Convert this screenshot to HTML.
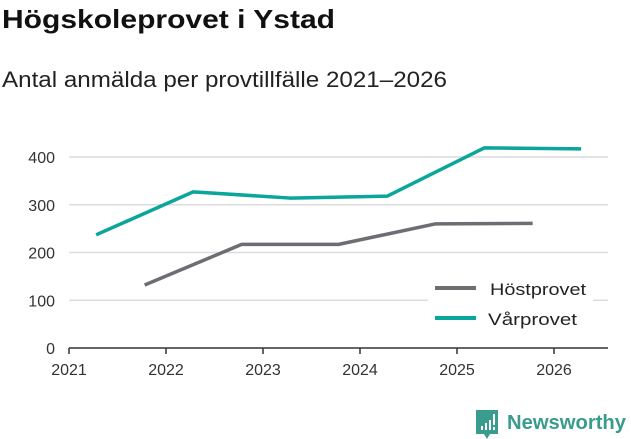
<!DOCTYPE html>
<html><head><meta charset="utf-8"><style>
body{margin:0;background:#fff;font-family:"Liberation Sans",sans-serif;}
#wrap{position:relative;width:631px;height:439px;overflow:hidden;}
</style></head><body>
<div id="wrap">
<svg id="chart" width="631" height="439" xmlns="http://www.w3.org/2000/svg">
<text x="2" y="28" font-size="26" font-weight="bold" fill="#111" textLength="333" lengthAdjust="spacingAndGlyphs">Högskoleprovet i Ystad</text>
<text x="2" y="87" font-size="22" fill="#222" textLength="445" lengthAdjust="spacingAndGlyphs">Antal anmälda per provtillfälle 2021–2026</text>
<g id="grid"></g><g id="axes"></g><g id="series"></g>
<g>
<rect x="428" y="276" width="165" height="58" fill="#fff"/>
<line x1="435" y1="288" x2="476" y2="288" stroke="#6d6d73" stroke-width="4"/>
<text x="490" y="295" font-size="17" fill="#222" textLength="96" lengthAdjust="spacingAndGlyphs">Höstprovet</text>
<line x1="435" y1="318" x2="476" y2="318" stroke="#0aa59b" stroke-width="4"/>
<text x="488" y="325" font-size="17" fill="#222" textLength="89" lengthAdjust="spacingAndGlyphs">Vårprovet</text>
</g>
<g>
<path d="M476 410 h22 v24 h-8 l-3 5 l-3 -5 h-8 z" fill="#3a9c8c"/>
<rect x="481" y="426" width="2" height="4" fill="#fff"/><rect x="485" y="423" width="2" height="7" fill="#fff"/><rect x="489" y="420" width="2" height="10" fill="#fff"/><rect x="493" y="414" width="2" height="11" fill="#fff"/><rect x="493" y="427" width="2" height="3" fill="#fff"/>
<text x="507" y="429" font-size="20" font-weight="bold" fill="#3a9c8c" textLength="119" lengthAdjust="spacingAndGlyphs">Newsworthy</text>
</g>
</svg>
</div>
<script>
const years=[2021,2022,2023,2024,2025,2026];
const yTicks=[0,100,200,300,400];
const varX=[2021.28,2022.28,2023.28,2024.28,2025.28,2026.28];
const varVals=[237,327,314,318,419,417];
const hostX=[2021.78,2022.78,2023.78,2024.78,2025.78];
const hostVals=[132,217,217,260,261];
const NS="http://www.w3.org/2000/svg";
const xs=v=>69+(v-2021)*97;
const ys=v=>348-v*0.4775;
function mk(t,a,p){const e=document.createElementNS(NS,t);for(const k in a)e.setAttribute(k,a[k]);p.appendChild(e);return e;}
const grid=document.getElementById('grid'),axes=document.getElementById('axes'),ser=document.getElementById('series');
yTicks.forEach(v=>{
 if(v>0){const g=mk('line',{x1:69,x2:608,y1:ys(v),y2:ys(v),stroke:'#dcdcdc','stroke-width':1.5},grid);
 
 }
 const t=mk('text',{x:55,y:ys(v)+6,'font-size':16,fill:'#333','text-anchor':'end'},axes);t.textContent=v;
 
 
});
const ax=mk('line',{x1:69,x2:608,y1:348,y2:348,stroke:'#333','stroke-width':1.5},axes);


years.forEach(y=>{
 mk('line',{x1:xs(y),x2:xs(y),y1:348,y2:354,stroke:'#333','stroke-width':1.5},axes);
 const t=mk('text',{x:xs(y),y:375,'font-size':16,fill:'#333','text-anchor':'middle'},axes);t.textContent=y;
 
 
});
function line(xv,vals,color,name){
 const d=xv.map((x,i)=>(i?'L':'M')+xs(x)+' '+ys(vals[i])).join(' ');
 const p=mk('path',{d:d,fill:'none',stroke:color,'stroke-width':3.5,'stroke-linejoin':'round'},ser);
 
 
}
line(hostX,hostVals,'#6d6d73','line-hostprovet');
line(varX,varVals,'#0aa59b','line-varprovet');
</script>
</body></html>
